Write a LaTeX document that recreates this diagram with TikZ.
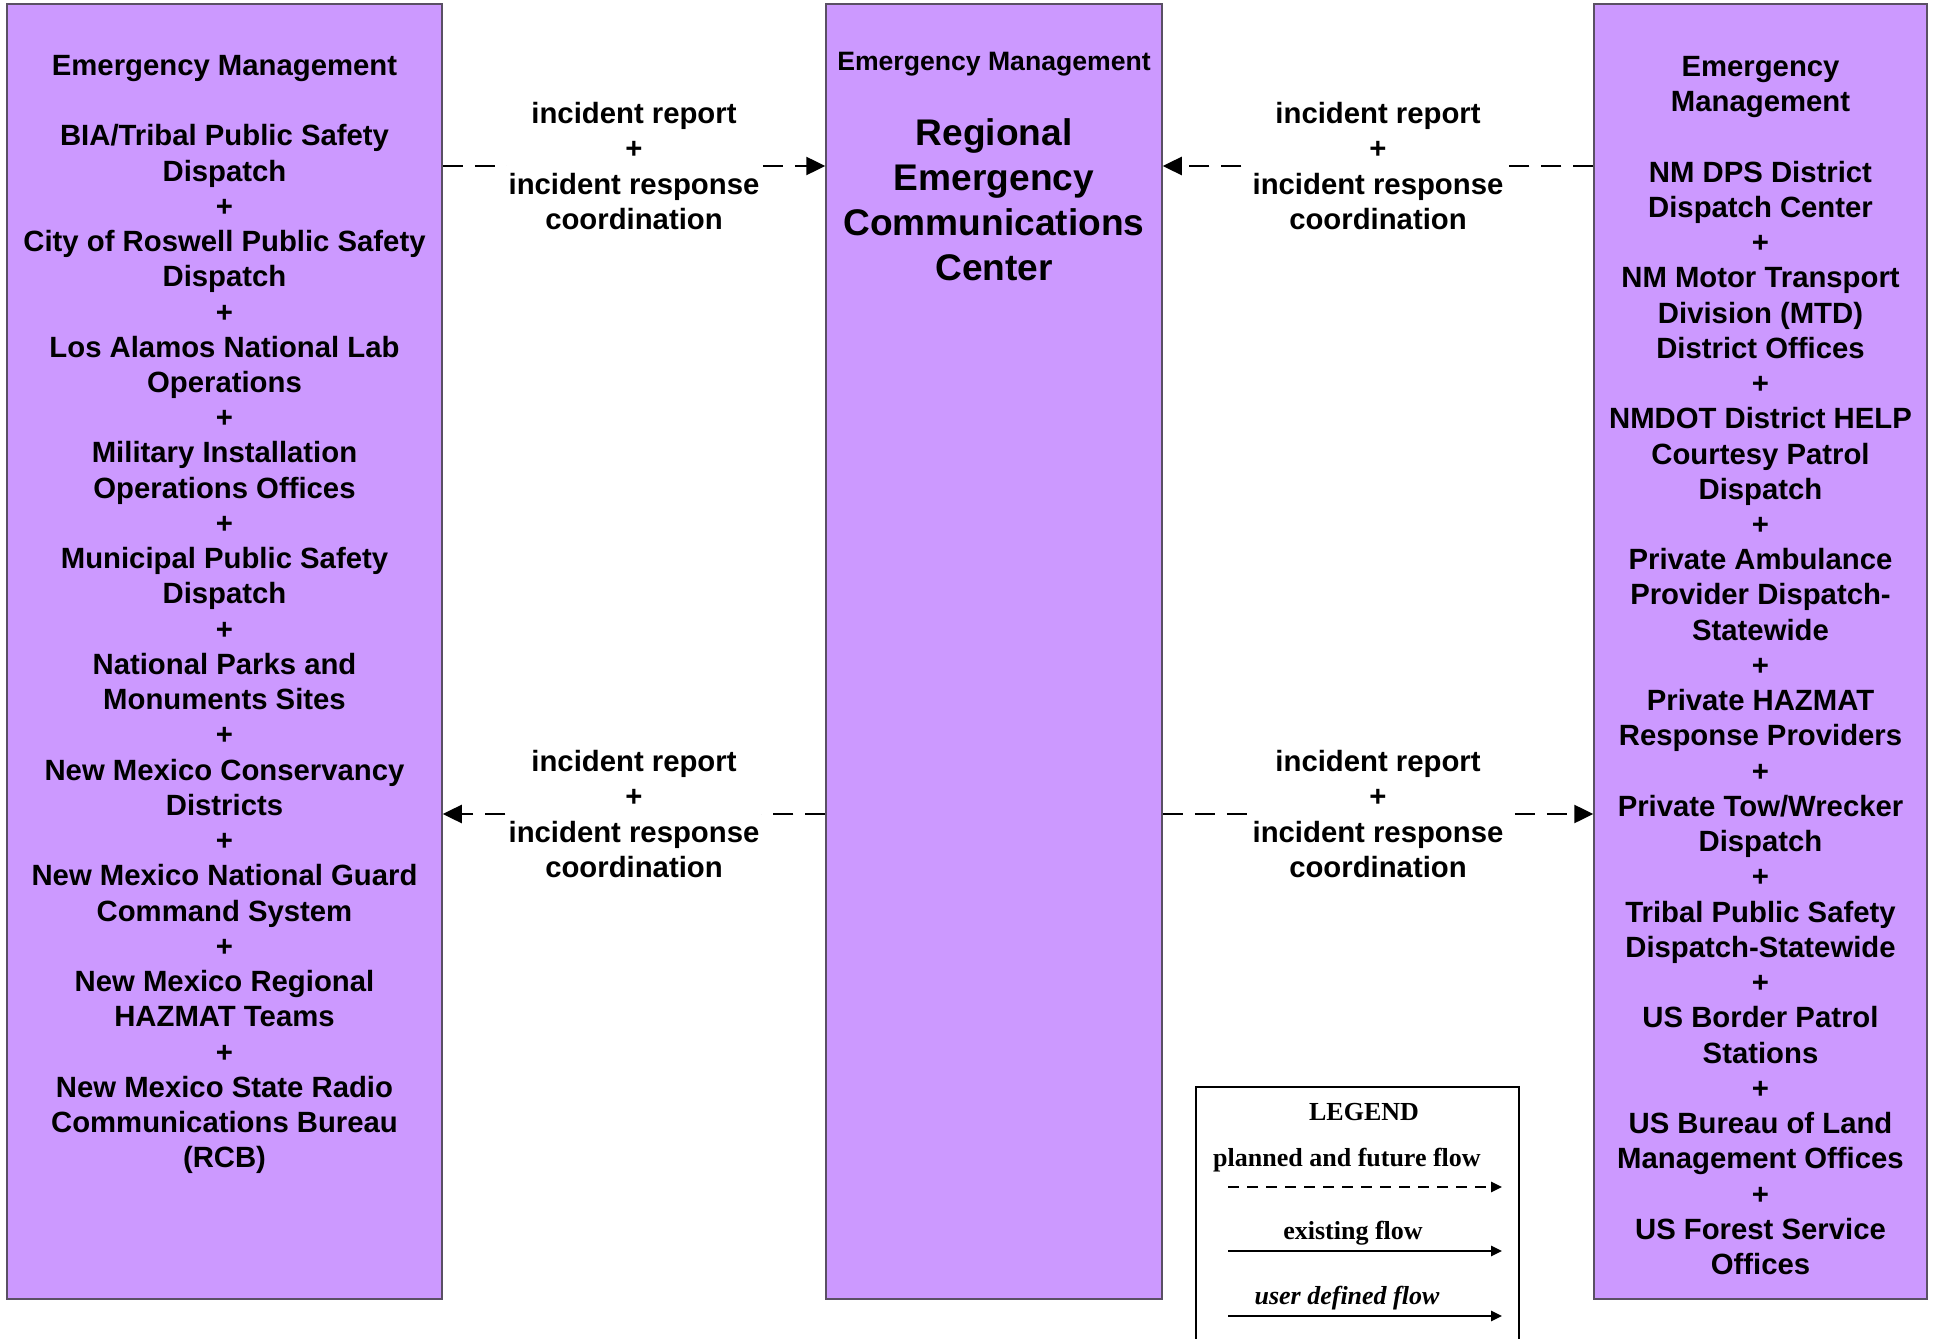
\documentclass[tikz,border=0pt]{standalone}
\usepackage{fontspec}
\setmainfont{Liberation Sans}
\newfontfamily\legendfont{Liberation Serif}
\usetikzlibrary{arrows.meta}
\definecolor{boxfill}{RGB}{204,153,255}
\definecolor{boxline}{RGB}{90,80,100}
\tikzset{
  sysbox/.style={draw=boxline, fill=boxfill, line width=1.5bp, inner sep=0pt,
    minimum height=1295bp},
  boxtext/.style={align=center, inner sep=0pt,
    font=\bfseries\fontsize{29.3bp}{35.24bp}\selectfont},
  smalltitle/.style={align=center, inner sep=0pt,
    font=\bfseries\fontsize{26.6bp}{32bp}\selectfont},
  bigtitle/.style={align=center, inner sep=0pt,
    font=\bfseries\fontsize{37.1bp}{45bp}\selectfont},
  flowlabel/.style={align=center, fill=white, inner sep=2bp,
    font=\bfseries\fontsize{29.3bp}{35.24bp}\selectfont},
  flow/.style={line width=2.5bp, dash pattern=on 20bp off 12bp,
    -{Triangle[length=19bp,width=18bp]}},
  legendtext/.style={inner sep=0pt, font=\legendfont\bfseries\fontsize{26bp}{30bp}\selectfont},
  legendflow/.style={line width=2.5bp, -{Triangle[length=11bp,width=10bp]}},
}
\begin{document}
\begin{tikzpicture}[x=1bp,y=-1bp]
\useasboundingbox (0,0) rectangle (1937,1339);

% boxes
\node[sysbox, minimum width=435bp] (lbox) at (224.5,651.5) {};
\node[sysbox, minimum width=336bp] (mbox) at (994,651.5) {};
\node[sysbox, minimum width=333bp] (rbox) at (1760.5,651.5) {};

% left box text
\node[boxtext] (ltext) at (224.5,614.5) {Emergency Management\\[35.24bp]
BIA/Tribal Public Safety\\Dispatch\\+\\
City of Roswell Public Safety\\Dispatch\\+\\
Los Alamos National Lab\\Operations\\+\\
Military Installation\\Operations Offices\\+\\
Municipal Public Safety\\Dispatch\\+\\
National Parks and\\Monuments Sites\\+\\
New Mexico Conservancy\\Districts\\+\\
New Mexico National Guard\\Command System\\+\\
New Mexico Regional\\HAZMAT Teams\\+\\
New Mexico State Radio\\Communications Bureau\\(RCB)};

% middle box text
\node[smalltitle] (mtitle) at (994,64.5) {Emergency Management};
\node[bigtitle] (mname) at (994,199.5) {Regional\\Emergency\\Communications\\Center};

% right box text
\node[boxtext] (rtext) at (1760.5,665.5) {Emergency\\Management\\[35.24bp]
NM DPS District\\Dispatch Center\\+\\
NM Motor Transport\\Division (MTD)\\District Offices\\+\\
NMDOT District HELP\\Courtesy Patrol\\Dispatch\\+\\
Private Ambulance\\Provider Dispatch-\\Statewide\\+\\
Private HAZMAT\\Response Providers\\+\\
Private Tow/Wrecker\\Dispatch\\+\\
Tribal Public Safety\\Dispatch-Statewide\\+\\
US Border Patrol\\Stations\\+\\
US Bureau of Land\\Management Offices\\+\\
US Forest Service\\Offices};

% flows
\coordinate (ytop) at (0,166);
\coordinate (ybot) at (0,814);
\draw[flow] (lbox.east |- ytop) -- (mbox.west |- ytop)
  node[flowlabel, midway] (lab1) {incident report\\+\\incident response\\coordination};
\draw[flow] (rbox.west |- ytop) -- (mbox.east |- ytop)
  node[flowlabel, midway] (lab2) {incident report\\+\\incident response\\coordination};
\draw[flow] (mbox.west |- ybot) -- (lbox.east |- ybot)
  node[flowlabel, midway] (lab3) {incident report\\+\\incident response\\coordination};
\draw[flow] (mbox.east |- ybot) -- (rbox.west |- ybot)
  node[flowlabel, midway] (lab4) {incident report\\+\\incident response\\coordination};

% legend
\draw[line width=2.5bp] (1196,1345) -- (1196,1087) -- (1519,1087) -- (1519,1345);
\node[legendtext] (legtitle) at (1364,1112) {LEGEND};
\node[legendtext] (legplanned) at (1347,1160) {planned and future flow};
\node[legendtext] (legexisting) at (1353,1233) {existing flow};
\node[legendtext, font=\legendfont\bfseries\itshape\fontsize{26bp}{30bp}\selectfont] (leguser) at (1347,1298) {user defined flow};
\coordinate (lpa) at (1228,1187);
\coordinate (lpb) at (1502,1187);
\coordinate (lea) at (1228,1251);
\coordinate (leb) at (1502,1251);
\coordinate (lua) at (1228,1316);
\coordinate (lub) at (1502,1316);
\draw[legendflow, dash pattern=on 11bp off 8bp] (lpa) -- (lpb);
\draw[legendflow] (lea) -- (leb);
\draw[legendflow] (lua) -- (lub);
\end{tikzpicture}
\end{document}
